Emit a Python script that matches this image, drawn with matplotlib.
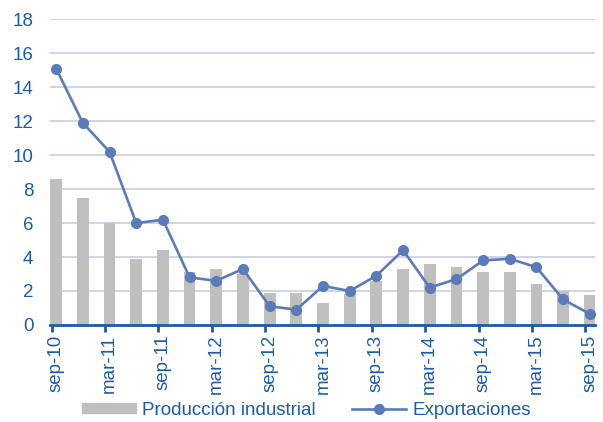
import numpy as np
import matplotlib.pyplot as plt
from matplotlib.patches import Patch
from matplotlib.lines import Line2D

plt.rcParams['font.family'] = ['Liberation Sans', 'DejaVu Sans']

# quarterly data, sep-10 .. sep-15
labels = ["sep-10", "mar-11", "sep-11", "mar-12", "sep-12", "mar-13",
          "sep-13", "mar-14", "sep-14", "mar-15", "sep-15"]
produccion = [8.6, 7.5, 6.0, 3.9, 4.4, 3.1, 3.3, 3.0, 1.9, 1.9, 1.3,
              1.8, 2.6, 3.3, 3.6, 3.4, 3.1, 3.1, 2.4, 2.0, 1.75]
exportaciones = [15.1, 11.9, 10.2, 6.0, 6.2, 2.8, 2.6, 3.3, 1.1, 0.9, 2.3,
                 2.0, 2.9, 4.4, 2.2, 2.7, 3.8, 3.9, 3.4, 1.5, 0.65]

text_col = "#1B5CA8"
axis_col = "#1E5AA8"
bar_col = "#BFBFBF"
line_col = "#5A7BBA"
grid_col = "#C8CCE2"
fs = 13.5

fig = plt.figure(figsize=(6.03, 4.22), dpi=100)
ax = fig.add_axes([0.083, 0.23, 0.904, 0.724])

x = np.arange(len(produccion))
ax.bar(x, produccion, width=0.44, color=bar_col, zorder=2)
ax.plot(x, exportaciones, color=line_col, lw=1.9, marker="o", ms=7,
        zorder=3)

ax.set_ylim(0, 18)
ax.set_yticks(range(0, 19, 2))
ax.set_xlim(-0.23, 20.2)
ax.yaxis.grid(True, color=grid_col, lw=1.2, zorder=0)
ax.set_axisbelow(True)

# labels centred on the points, tick marks a bit to the left
ax.set_xticks(x[::2])
ax.set_xticklabels(labels, rotation=90)
ax.set_xticks(x[::2] - 0.17, minor=True)
ax.tick_params(axis="x", which="major", length=0, pad=7, labelsize=fs,
               labelcolor=text_col)
ax.tick_params(axis="x", which="minor", length=5, width=2, color=axis_col)
ax.tick_params(axis="y", length=0, pad=12, labelsize=fs, labelcolor=text_col)

for s in ["top", "right", "left"]:
    ax.spines[s].set_visible(False)
ax.spines["bottom"].set_color(axis_col)
ax.spines["bottom"].set_linewidth(2)

handles = [Patch(color=bar_col),
           Line2D([], [], color=line_col, lw=1.9, marker="o", ms=7)]
fig.legend(handles, ["Producción industrial", "Exportaciones"],
           loc="center", bbox_to_anchor=(0.508, 0.028), ncol=2, frameon=False,
           fontsize=fs, labelcolor=text_col, handlelength=2.9,
           handleheight=0.4, handletextpad=0.35, columnspacing=1.9)

fig.savefig("out.png", dpi=100)
